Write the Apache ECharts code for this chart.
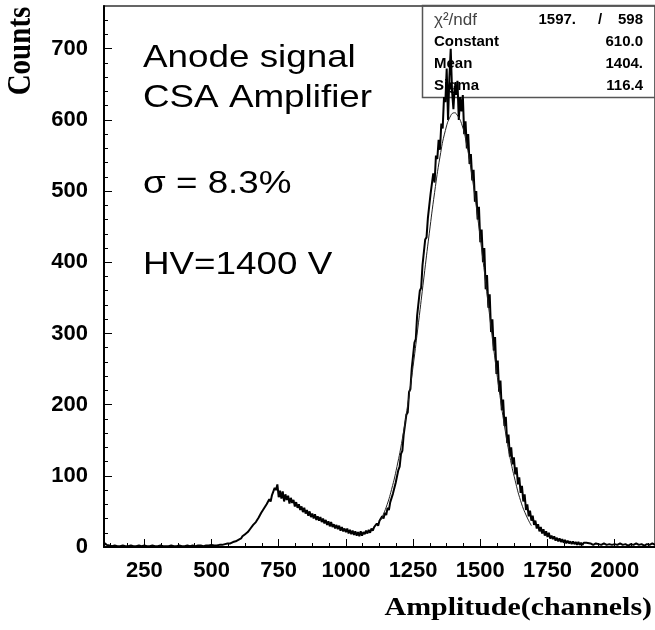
<!DOCTYPE html>
<html>
<head>
<meta charset="utf-8">
<script src="https://cdn.jsdelivr.net/npm/echarts@6/dist/echarts.min.js"></script>
<style>
html,body{margin:0;padding:0;background:#fff;}
#chart{width:655px;height:630px;}
</style>
</head>
<body>
<div id="chart"></div>
<script>
// Histogram counts, in three segments with their own bin widths
// channels 100..590, 10-channel bins
const lowStart = 100, lowStep = 10;
const countsLow = [6,3,2,1,2,1,1,2,1,1, 2,1,1,2,1,2,1,1,2,1, 1,2,1,1,1,2,1,1,2,1, 1,2,1,2,1,2,2,1,2,2, 3,2,2,3,3,4,5,5,7,8];
// channels 600..1895, 5-channel bins
const midStart = 600, midStep = 5;
const countsMid = [
  10,12,12,15,14,18,18,21,21,26,27,31,29,35,36,41,42,48,49,54,        // 600-695
  53,60,61,67,64,73,74,83,80,88,70,79,68,78,64,74,66,72,61,69,        // 700-795
  62,66,57,63,55,60,52,57,49,55,47,52,44,50,42,47,40,46,38,43,        // 800-895
  37,42,35,40,33,38,31,36,29,35,28,32,26,31,25,30,23,28,22,26,        // 900-995
  21,26,19,24,18,23,17,22,16,21,15,22,16,21,18,23,19,24,20,26,        // 1000-1095
  23,28,26,33,30,37,35,43,40,48,45,55,52,63,61,75,74,90,91,108,       // 1100-1195
  113,131,135,158,160,186,189,218,222,251,252,287,292,325,324,360,364,396,396,432, // 1200-1295
  435,462,460,496,495,525,512,550,545,572,558,595,588,632,625,672,600,660,700,640, // 1300-1395
  615,648,635,655,600,632,612,635,580,598,560,580,538,552,515,530,485,500,460,478, // 1400-1495
  428,446,400,420,362,382,336,355,302,320,276,295,243,262,218,234,192,207,170,183, // 1500-1595
  146,158,127,140,116,126,102,112,88,98,76,86,64,74,52,60,43,51,37,44,            // 1600-1695
  31,37,26,32,22,28,19,25,16,22,14,20,12,16,11,15,9,13,8,12,                      // 1700-1795
  7,11,6,10,5,9,5,8,4,8,4,7,3,7,3,6,3,6,4,6                                       // 1800-1895
];
// channels 1900..2150, 10-channel bins
const tailStart = 1900, tailStep = 10;
const countsTail = [4,5,3,5,4,3,5,3,4,3, 4,3,5,3,4,2,4,3,5,3, 4,2,4,3,5,3];

// Gaussian fit curve as drawn (Constant 610, Mean 1404, Sigma 116.4)
const fitChannels = [1130,1150,1170,1190,1210,1230,1250,1270,1290,1310,1330,1350,1370,1390,1404,1410,1430,1450,1470,1490,1510,1530,1550,1570,1590,1610,1630,1650,1670,1690];
const fitCounts   = [38,56,81,113,152,200,254,315,378,440,498,548,585,606,610,609,595,564,519,464,403,340,278,221,170,127,93,65,45,30];

const xTickValues = [250,500,750,1000,1250,1500,1750,2000];
const xMinorTicks = [125,187.5,312.5,375,437.5,562.5,625,687.5,812.5,875,937.5,1062.5,1125,1187.5,1312.5,1375,1437.5,1562.5,1625,1687.5,1812.5,1875,1937.5,2062.5,2125];
const yTickValues = [0,100,200,300,400,500,600,700];
const yMinorTicks = [20,40,60,80,120,140,160,180,220,240,260,280,320,340,360,380,420,440,460,480,520,540,560,580,620,640,660,680,720,740];

const statsRows = [
  ['χ²/ndf', '1597.', '598'],
  ['Constant', '', '610.0'],
  ['Mean', '', '1404.'],
  ['Sigma', '', '116.4']
];
const noteLines = ['Anode signal', 'CSA Amplifier', 'σ = 8.3%', 'HV=1400 V'];

const histData = []
  .concat(countsLow.map((c, i) => [lowStart + i * lowStep, c]))
  .concat(countsMid.map((c, i) => [midStart + i * midStep, c]))
  .concat(countsTail.map((c, i) => [tailStart + i * tailStep, c]));
const fitData = fitChannels.map((x, i) => [x, fitCounts[i]]);

const chart = echarts.init(document.getElementById('chart'), null, {renderer: 'canvas'});

const labelFont = {fontFamily: '"Liberation Sans", Arial, sans-serif', fontWeight: 'bold', fontSize: 22, color: '#000'};

const graphics = [];
const noteY = [58.5, 98.5, 184, 265];
noteLines.forEach((t, i) => {
  graphics.push({
    type: 'text', x: 143, y: noteY[i], scaleX: 1.15, z: 10,
    style: {text: t, fill: '#000', font: '32px "Liberation Sans", Arial, sans-serif', textAlign: 'left', textVerticalAlign: 'middle'}
  });
});
graphics.push({
  type: 'rect', z: 1, shape: {x: 422.5, y: 5.5, width: 240, height: 92},
  style: {fill: 'none', stroke: '#555', lineWidth: 1.5}
});
const rowY = [20, 41.5, 64, 86];
statsRows.forEach((r, i) => {
  graphics.push({
    type: 'text', x: 434, y: rowY[i], z: 10,
    style: {text: r[0], fill: i === 0 ? '#444' : '#000',
      font: (i === 0 ? 'normal 17px' : 'bold 15px') + ' "Liberation Sans", Arial, sans-serif',
      textAlign: 'left', textVerticalAlign: 'middle'}
  });
  if (r[1]) {
    graphics.push({
      type: 'text', x: 576, y: rowY[i], z: 10,
      style: {text: r[1], fill: '#000', font: 'bold 15px "Liberation Sans", Arial, sans-serif', textAlign: 'right', textVerticalAlign: 'middle'}
    });
    graphics.push({
      type: 'text', x: 600, y: rowY[i], z: 10,
      style: {text: '/', fill: '#000', font: 'bold 15px "Liberation Sans", Arial, sans-serif', textAlign: 'center', textVerticalAlign: 'middle'}
    });
  }
  graphics.push({
    type: 'text', x: 643, y: rowY[i], z: 10,
    style: {text: r[2], fill: '#000', font: 'bold 15px "Liberation Sans", Arial, sans-serif', textAlign: 'right', textVerticalAlign: 'middle'}
  });
});
graphics.push({
  type: 'text', x: 652, y: 608, scaleX: 1.15, z: 10,
  style: {text: 'Amplitude(channels)', fill: '#000', font: 'bold 26px "Liberation Serif", "Times New Roman", serif', textAlign: 'right', textVerticalAlign: 'middle'}
});
graphics.push({
  type: 'text', x: 21, y: 51, rotation: Math.PI / 2, scaleY: 1.15, z: 10,
  style: {text: 'Counts', fill: '#000', font: 'bold 29px "Liberation Serif", "Times New Roman", serif', textAlign: 'center', textVerticalAlign: 'middle'}
});

const plainNumber = v => String(v);

const option = {
  animation: false,
  backgroundColor: '#fff',
  grid: {left: 104, right: 0, top: 6, bottom: 83, show: true, borderColor: '#333', borderWidth: 1.5, backgroundColor: 'transparent'},
  xAxis: [{
    type: 'value', min: 100, max: 2150, position: 'bottom',
    axisLine: {show: true, onZero: false, lineStyle: {color: '#000', width: 2}},
    axisTick: {show: true, inside: true, length: 8, customValues: xTickValues, lineStyle: {color: '#000', width: 1}},
    axisLabel: Object.assign({customValues: xTickValues, margin: 13, formatter: plainNumber}, labelFont),
    splitLine: {show: false}
  }, {
    type: 'value', min: 100, max: 2150, position: 'bottom',
    axisLine: {show: false, onZero: false},
    axisTick: {show: true, inside: true, length: 4, customValues: xMinorTicks, lineStyle: {color: '#000', width: 1}},
    axisLabel: {show: false},
    splitLine: {show: false}
  }],
  yAxis: [{
    type: 'value', min: 0, max: 760, position: 'left',
    axisLine: {show: true, onZero: false, lineStyle: {color: '#000', width: 2}},
    axisTick: {show: true, inside: true, length: 8, customValues: yTickValues, lineStyle: {color: '#000', width: 1}},
    axisLabel: Object.assign({customValues: yTickValues, margin: 16, formatter: plainNumber}, labelFont),
    splitLine: {show: false}
  }, {
    type: 'value', min: 0, max: 760, position: 'left',
    axisLine: {show: false, onZero: false},
    axisTick: {show: true, inside: true, length: 4, customValues: yMinorTicks, lineStyle: {color: '#000', width: 1}},
    axisLabel: {show: false},
    splitLine: {show: false}
  }],
  series: [{
    type: 'line', name: 'data', xAxisIndex: 0, yAxisIndex: 0,
    data: histData, showSymbol: false, symbol: 'none', sampling: null,
    lineStyle: {color: '#000', width: 2}, z: 3
  }, {
    type: 'line', name: 'fit', xAxisIndex: 0, yAxisIndex: 0,
    data: fitData, showSymbol: false, symbol: 'none', smooth: true,
    lineStyle: {color: '#222', width: 1}, z: 4
  }],
  graphic: graphics
};
chart.setOption(option);
</script>
</body>
</html>
